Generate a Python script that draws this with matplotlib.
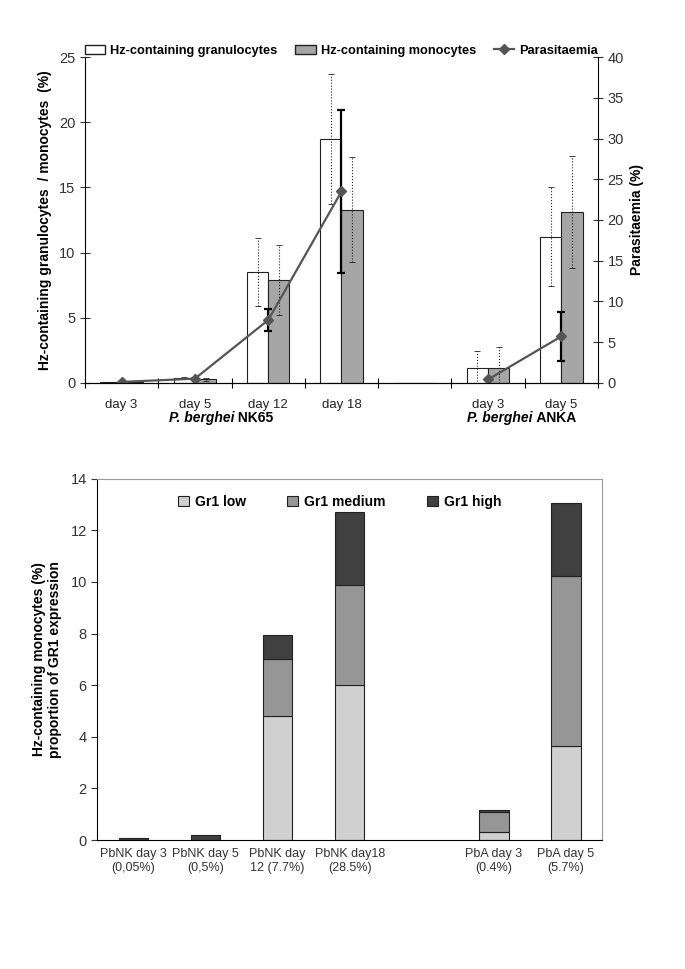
import numpy as np
import matplotlib
matplotlib.use("Agg")
import matplotlib.pyplot as plt
from matplotlib.patches import Patch
from matplotlib.lines import Line2D

plt.rcParams["font.family"] = ["Liberation Sans", "DejaVu Sans"]

# ---- top chart data (slot 4 is an empty gap between strains)
days_top = ["day 3", "day 5", "day 12", "day 18", "", "day 3", "day 5"]
gran = [0.05, 0.35, 8.5, 18.7, np.nan, 1.15, 11.2]
gran_err = [0.03, 0.1, 2.6, 5.0, np.nan, 1.25, 3.8]
mono = [0.03, 0.25, 7.9, 13.3, np.nan, 1.15, 13.1]
mono_err = [0.02, 0.1, 2.7, 4.0, np.nan, 1.6, 4.3]
para = [0.1, 0.5, 7.7, 23.5, np.nan, 0.4, 5.7]
para_err = [0.0, 0.0, 1.4, 10.0, np.nan, 0.0, 3.0]

# ---- bottom chart data
groups_bot = ["PbNK day 3\n(0,05%)", "PbNK day 5\n(0,5%)", "PbNK day\n12 (7.7%)",
              "PbNK day18\n(28.5%)", "", "PbA day 3\n(0.4%)", "PbA day 5\n(5.7%)"]
gr1_low = [0.0, 0.0, 4.8, 6.0, 0.0, 0.32, 3.65]
gr1_med = [0.0, 0.0, 2.2, 3.9, 0.0, 0.78, 6.57]
gr1_high = [0.07, 0.18, 0.95, 2.8, 0.0, 0.08, 2.82]

fig = plt.figure(figsize=(6.85, 9.69), dpi=100)

# ================= top panel =================
ax = fig.add_axes([0.124, 0.605, 0.749, 0.336])
x = np.arange(len(days_top))
w = 0.29
gran_a = np.array(gran, dtype=float)
mono_a = np.array(mono, dtype=float)
ax.bar(x - w / 2, np.nan_to_num(gran_a), w, color="white", edgecolor="#222222", linewidth=0.8)
ax.bar(x + w / 2, np.nan_to_num(mono_a), w, color="#a6a6a6", edgecolor="#222222", linewidth=0.8)
for xs, ys, es in [(x - w / 2, gran, gran_err), (x + w / 2, mono, mono_err)]:
    eb = ax.errorbar(xs, ys, yerr=es, fmt="none", ecolor="#222222",
                     elinewidth=0.8, capsize=2, capthick=0.6)
    eb[2][0].set_linestyle(":")

ax.set_xlim(-0.5, 6.5)
ax.set_ylim(0, 25)
ax.set_yticks(np.arange(0, 26, 5))
ax.set_xticks(x)
ax.set_xticklabels(days_top, fontsize=9.5, color="#222222")
ax.set_xticks(np.arange(-0.5, 7, 1), minor=True)
ax.tick_params(axis="x", which="major", length=0, pad=12)
ax.tick_params(axis="x", which="minor", direction="inout", length=7, width=0.8)
ax.tick_params(axis="y", direction="inout", length=7, width=0.8, labelsize=10.5, colors="#333333")
ax.spines["top"].set_visible(False)
ax.spines["right"].set_visible(False)
ax.set_ylabel("Hz-containing granulocytes  / monocytes  (%)", fontsize=10,
              fontweight="bold", labelpad=5)

ax2 = ax.twinx()
ax2.set_ylim(0, 40)
ax2.set_yticks(np.arange(0, 41, 5))
ax2.errorbar(x, para, yerr=para_err, fmt="none", ecolor="black",
             elinewidth=1.6, capsize=3, capthick=1.6)
ax2.plot(x, para, color="#555555", lw=1.6, marker="D", markersize=5.5,
         markerfacecolor="#555555", markeredgecolor="#555555")
ax2.tick_params(axis="y", direction="inout", length=7, width=0.8, labelsize=10.5, colors="#333333")
ax2.spines["top"].set_visible(False)
ax2.spines["left"].set_visible(False)
ax2.set_ylabel("Parasitaemia (%)", fontsize=10, fontweight="bold", labelpad=4)

# strain labels under the day labels
for xs, strain in [(1.54, "NK65"), (5.61, "ANKA")]:
    ax.text(xs, -0.107, "P. berghei", transform=ax.get_xaxis_transform(),
            ha="right", va="center", fontsize=10, fontweight="bold", style="italic")
    ax.text(xs, -0.107, " " + strain, transform=ax.get_xaxis_transform(),
            ha="left", va="center", fontsize=10, fontweight="bold")

handles = [Patch(facecolor="white", edgecolor="#222222", label="Hz-containing granulocytes"),
           Patch(facecolor="#a6a6a6", edgecolor="#222222", label="Hz-containing monocytes"),
           Line2D([], [], color="#555555", lw=1.6, marker="D", markersize=5,
                  label="Parasitaemia")]
ax.legend(handles=handles, loc="lower center", bbox_to_anchor=(0.5, 0.985), ncol=3,
          frameon=False, prop={"weight": "bold", "size": 9.2},
          handlelength=1.6, handleheight=0.8, columnspacing=1.4, handletextpad=0.4,
          borderaxespad=0)

# ================= bottom panel =================
bx = fig.add_axes([0.142, 0.133, 0.737, 0.373])
xb = np.arange(len(groups_bot))
bw = 0.41
low = np.array(gr1_low)
med = np.array(gr1_med)
high = np.array(gr1_high)
mask = xb != 4
bx.bar(xb[mask], low[mask], bw, color="#d0d0d0", edgecolor="#222222", linewidth=0.8,
       label="Gr1 low")
bx.bar(xb[mask], med[mask], bw, bottom=low[mask], color="#969696", edgecolor="#222222",
       linewidth=0.8, label="Gr1 medium")
bx.bar(xb[mask], high[mask], bw, bottom=(low + med)[mask], color="#404040",
       edgecolor="#222222", linewidth=0.8, label="Gr1 high")
bx.set_xlim(-0.5, 6.5)
bx.set_ylim(0, 14)
bx.set_yticks(np.arange(0, 15, 2))
bx.set_xticks(xb[mask])
bx.set_xticklabels([groups_bot[i] for i in xb[mask]], fontsize=9, color="#333333")
bx.tick_params(axis="x", length=0, pad=6)
bx.tick_params(axis="y", direction="out", length=4, width=0.8, labelsize=10.5, colors="#333333")
for s in ["top", "right"]:
    bx.spines[s].set_color("#999999")
bx.set_ylabel("Hz-containing monocytes (%)\nproportion of GR1 expression", fontsize=10,
              fontweight="bold", labelpad=6)
bx.legend(loc="upper center", bbox_to_anchor=(0.48, 0.99), ncol=3, frameon=False,
          prop={"weight": "bold", "size": 10}, handlelength=0.8, handleheight=0.8,
          columnspacing=3.0, handletextpad=0.4)

fig.savefig("out.png", dpi=100)
